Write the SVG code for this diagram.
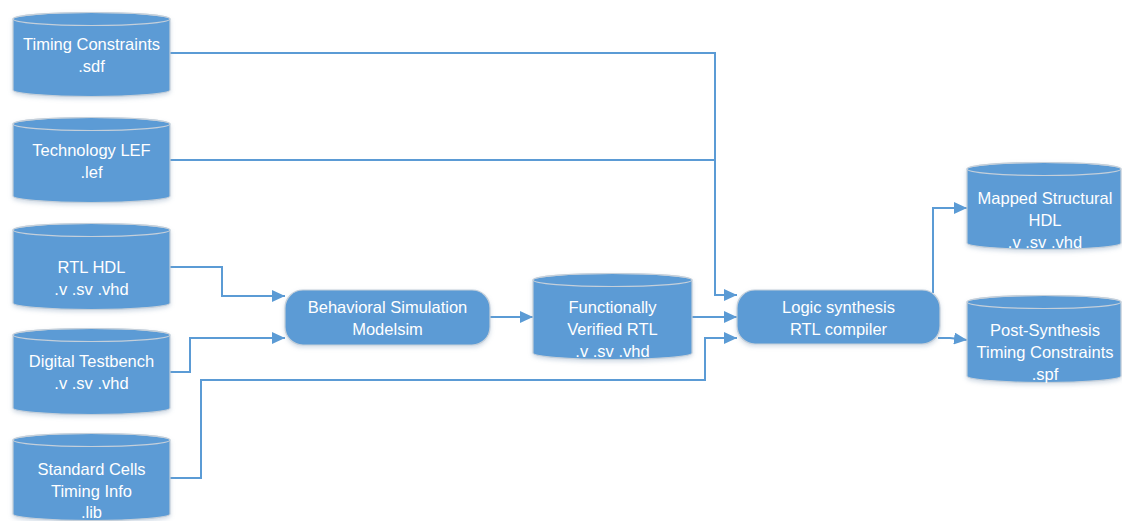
<svg xmlns="http://www.w3.org/2000/svg" width="1122" height="521" viewBox="0 0 1122 521">
<style>
.shape{fill:#5B9BD5;stroke:#C4CFDA;stroke-width:1.2;filter:url(#sh)}
.top{fill:none;stroke:#C4CFDA;stroke-width:1.2}
.lbl{font-family:"Liberation Sans",Arial,sans-serif;font-size:16.5px;fill:#FFFFFF;text-anchor:middle}
.conn{fill:none;stroke:#5B9BD5;stroke-width:2}
</style>
<defs>
<filter id="sh" x="-10%" y="-10%" width="120%" height="130%">
<feDropShadow dx="0" dy="2" stdDeviation="2" flood-color="#7F9BB8" flood-opacity="0.35"/>
</filter>
<marker id="arr" markerUnits="userSpaceOnUse" markerWidth="14" markerHeight="12" refX="13" refY="6" orient="auto">
<path d="M0,0 L13,6 L0,12 Z" fill="#5B9BD5"/>
</marker>
</defs>
<rect width="1122" height="521" fill="#FFFFFF"/>
<g id="connectors">
<path class="conn" d="M170,53 H715 V295 H737" marker-end="url(#arr)"/>
<path class="conn" d="M170,160 H715"/>
<path class="conn" d="M170,267 H222 V296 H285" marker-end="url(#arr)"/>
<path class="conn" d="M170,372 H190 V338 H285" marker-end="url(#arr)"/>
<path class="conn" d="M170,478 H201 V380 H705 V338 H737" marker-end="url(#arr)"/>
<path class="conn" d="M490,317 H533" marker-end="url(#arr)"/>
<path class="conn" d="M692,317 H737" marker-end="url(#arr)"/>
<path class="conn" d="M933,293 V208 H967" marker-end="url(#arr)"/>
<path class="conn" d="M938,338 H950 L967,340" marker-end="url(#arr)"/>
</g>
<g id="timing-constraints">
<path class="shape" d="M13,19 A78.5,6.5 0 0 1 170,19 V90 A78.5,6.5 0 0 1 13,90 Z"/>
<ellipse class="top" cx="91.5" cy="19" rx="78.5" ry="6.5"/>
<text class="lbl" x="91.5" y="50">Timing Constraints</text>
<text class="lbl" x="91.5" y="72">.sdf</text>
</g>
<g id="technology-lef">
<path class="shape" d="M13,124 A78.5,6.5 0 0 1 170,124 V196 A78.5,6.5 0 0 1 13,196 Z"/>
<ellipse class="top" cx="91.5" cy="124" rx="78.5" ry="6.5"/>
<text class="lbl" x="91.5" y="156">Technology LEF</text>
<text class="lbl" x="91.5" y="178">.lef</text>
</g>
<g id="rtl-hdl">
<path class="shape" d="M13,230 A78.5,6.5 0 0 1 170,230 V303 A78.5,6.5 0 0 1 13,303 Z"/>
<ellipse class="top" cx="91.5" cy="230" rx="78.5" ry="6.5"/>
<text class="lbl" x="91.5" y="273">RTL HDL</text>
<text class="lbl" x="91.5" y="295">.v .sv .vhd</text>
</g>
<g id="digital-testbench">
<path class="shape" d="M13,335 A78.5,6.5 0 0 1 170,335 V408 A78.5,6.5 0 0 1 13,408 Z"/>
<ellipse class="top" cx="91.5" cy="335" rx="78.5" ry="6.5"/>
<text class="lbl" x="91.5" y="367">Digital Testbench</text>
<text class="lbl" x="91.5" y="389">.v .sv .vhd</text>
</g>
<g id="standard-cells">
<path class="shape" d="M13,440 A78.5,6.5 0 0 1 170,440 V514 A78.5,6.5 0 0 1 13,514 Z"/>
<ellipse class="top" cx="91.5" cy="440" rx="78.5" ry="6.5"/>
<text class="lbl" x="91.5" y="475">Standard Cells</text>
<text class="lbl" x="91.5" y="497">Timing Info</text>
<text class="lbl" x="91.5" y="518">.lib</text>
</g>
<g id="behavioral-simulation">
<rect class="shape" x="285" y="290" width="205" height="55" rx="18" ry="18"/>
<text class="lbl" x="387.5" y="313">Behavioral Simulation</text>
<text class="lbl" x="387.5" y="335">Modelsim</text>
</g>
<g id="functionally-verified">
<path class="shape" d="M533,280 A79.5,6.5 0 0 1 692,280 V353 A79.5,6.5 0 0 1 533,353 Z"/>
<ellipse class="top" cx="612.5" cy="280" rx="79.5" ry="6.5"/>
<text class="lbl" x="612.5" y="313">Functionally</text>
<text class="lbl" x="612.5" y="335">Verified RTL</text>
<text class="lbl" x="612.5" y="357">.v .sv .vhd</text>
</g>
<g id="logic-synthesis">
<rect class="shape" x="737" y="290" width="203" height="54" rx="18" ry="18"/>
<text class="lbl" x="838.5" y="313">Logic synthesis</text>
<text class="lbl" x="838.5" y="335">RTL compiler</text>
</g>
<g id="mapped-structural">
<path class="shape" d="M967,169 A77,6.5 0 0 1 1121,169 V243 A77,6.5 0 0 1 967,243 Z"/>
<ellipse class="top" cx="1044" cy="169" rx="77" ry="6.5"/>
<text class="lbl" x="1045" y="204">Mapped Structural</text>
<text class="lbl" x="1045" y="226">HDL</text>
<text class="lbl" x="1045" y="248">.v .sv .vhd</text>
</g>
<g id="post-synthesis">
<path class="shape" d="M967,302 A77,6.5 0 0 1 1121,302 V376 A77,6.5 0 0 1 967,376 Z"/>
<ellipse class="top" cx="1044" cy="302" rx="77" ry="6.5"/>
<text class="lbl" x="1045" y="336">Post-Synthesis</text>
<text class="lbl" x="1045" y="358">Timing Constraints</text>
<text class="lbl" x="1045" y="380">.spf</text>
</g>
</svg>
